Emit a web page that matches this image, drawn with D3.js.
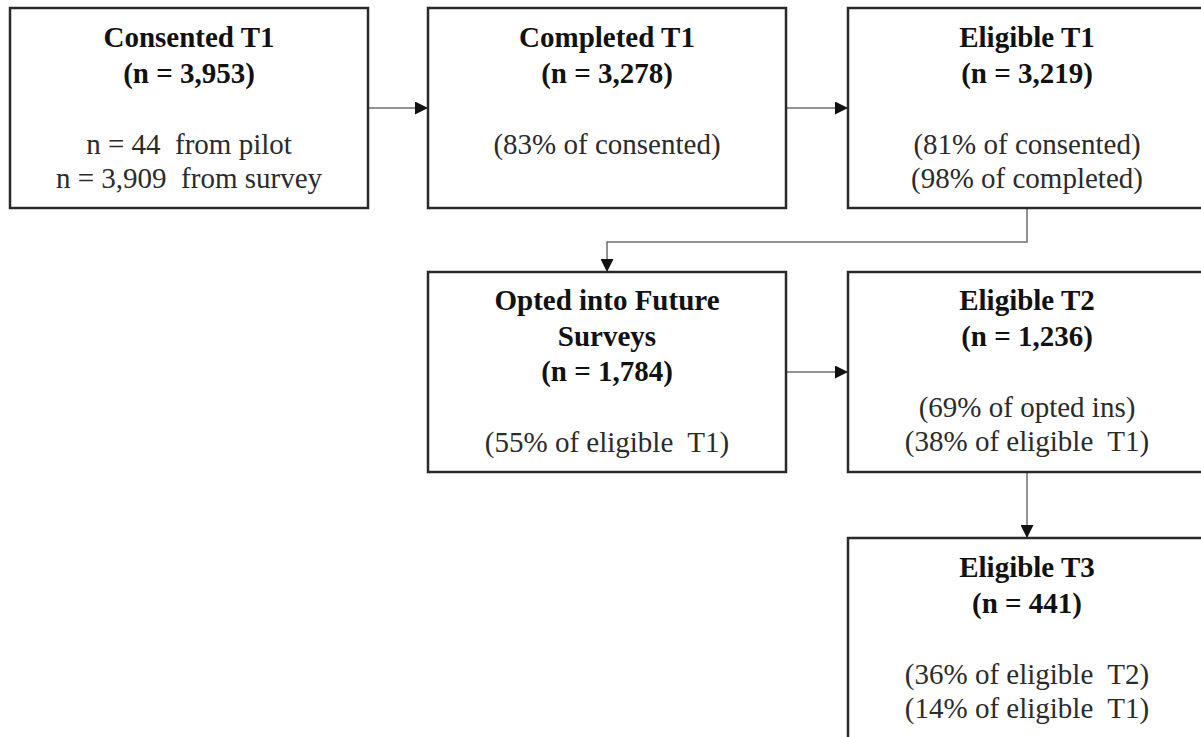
<!DOCTYPE html>
<html>
<head>
<meta charset="utf-8">
<script src="https://cdn.jsdelivr.net/npm/d3@7"></script>
<style>
  html, body { margin: 0; padding: 0; background: #fff; }
  svg { display: block; }
  text { font-family: "Liberation Serif", "Times New Roman", serif; white-space: pre; }
</style>
</head>
<body>
<svg id="chart" width="1201" height="737"></svg>
<script>
// ---- data ----
const stageIds    = ["consented", "completed", "eligibleT1", "optedIn", "eligibleT2", "eligibleT3"];
const stageTitles = [
  ["Consented T1", "(n = 3,953)"],
  ["Completed T1", "(n = 3,278)"],
  ["Eligible T1", "(n = 3,219)"],
  ["Opted into Future", "Surveys", "(n = 1,784)"],
  ["Eligible T2", "(n = 1,236)"],
  ["Eligible T3", "(n = 441)"]
];
const stageNotes = [
  ["n = 44  from pilot", "n = 3,909  from survey"],
  ["(83% of consented)"],
  ["(81% of consented)", "(98% of completed)"],
  ["(55% of eligible  T1)"],
  ["(69% of opted ins)", "(38% of eligible  T1)"],
  ["(36% of eligible  T2)", "(14% of eligible  T1)"]
];
const stageCol = [0, 1, 2, 1, 2, 2];
const stageRow = [0, 0, 0, 1, 1, 2];
const links = [
  ["consented", "completed"],
  ["completed", "eligibleT1"],
  ["eligibleT1", "optedIn"],
  ["optedIn", "eligibleT2"],
  ["eligibleT2", "eligibleT3"]
];

// ---- layout ----
const svg = d3.select("#chart");
const colX = d3.scaleOrdinal().domain([0, 1, 2]).range([10, 428, 848]);
const boxW = 358;
const rowY = d3.scaleOrdinal().domain([0, 1, 2]).range([8, 272, 538]);
const rowH = d3.scaleOrdinal().domain([0, 1, 2]).range([200, 200, 240]);
const rowBaseline = d3.scaleOrdinal().domain([0, 1, 2]).range([47, 310, 577]);
const fs = 29, lh = 35.5, noteGap = 35.5, noteLh = 34;

const nodes = stageIds.map((id, i) => ({
  id, titles: stageTitles[i], notes: stageNotes[i], col: stageCol[i],
  x: colX(stageCol[i]), y: rowY(stageRow[i]), w: boxW, h: rowH(stageRow[i]), row: stageRow[i]
}));
const byId = new Map(nodes.map(n => [n.id, n]));

svg.append("defs").append("marker")
  .attr("id", "arrow").attr("viewBox", "0 0 10 10")
  .attr("refX", 10).attr("refY", 5)
  .attr("markerWidth", 13).attr("markerHeight", 13)
  .attr("markerUnits", "userSpaceOnUse")
  .attr("orient", "auto")
  .append("path").attr("d", "M0,0 L10,5 L0,10 Z").attr("fill", "#111");

// links
const linkPath = ([s, t]) => {
  const a = byId.get(s), b = byId.get(t);
  const p = d3.path();
  if (a.row === b.row) {
    const y = a.y + 100;
    p.moveTo(a.x + a.w, y); p.lineTo(b.x, y);
  } else if (a.col === b.col) {
    const x = a.x + a.w / 2;
    p.moveTo(x, a.y + a.h); p.lineTo(x, b.y);
  } else {
    const x1 = a.x + a.w / 2, x2 = b.x + b.w / 2;
    const ym = a.y + a.h + 34;
    p.moveTo(x1, a.y + a.h); p.lineTo(x1, ym); p.lineTo(x2, ym); p.lineTo(x2, b.y);
  }
  return p.toString();
};
svg.append("g").selectAll("path").data(links).join("path")
  .attr("d", linkPath)
  .attr("fill", "none").attr("stroke", "#6e6e6e").attr("stroke-width", 1.5)
  .attr("marker-end", "url(#arrow)");

// boxes
const g = svg.append("g").selectAll("g").data(nodes).join("g");
g.append("rect")
  .attr("x", d => d.x).attr("y", d => d.y).attr("width", d => d.w).attr("height", d => d.h)
  .attr("fill", "none").attr("stroke", "#2a2a2a").attr("stroke-width", 2.5);

g.each(function(d) {
  const sel = d3.select(this);
  const cx = d.x + d.w / 2;
  const b0 = rowBaseline(d.row);
  d.titles.forEach((t, i) => {
    sel.append("text").attr("x", cx).attr("y", b0 + i * lh)
      .attr("text-anchor", "middle").attr("font-size", fs).attr("font-weight", "bold")
      .attr("fill", "#111").text(t);
  });
  const n0 = b0 + (d.titles.length - 1) * lh + lh + noteGap;
  d.notes.forEach((t, i) => {
    sel.append("text").attr("x", cx).attr("y", n0 + i * noteLh)
      .attr("text-anchor", "middle").attr("font-size", fs)
      .attr("fill", "#2b2b2b").text(t);
  });
});
</script>
</body>
</html>
